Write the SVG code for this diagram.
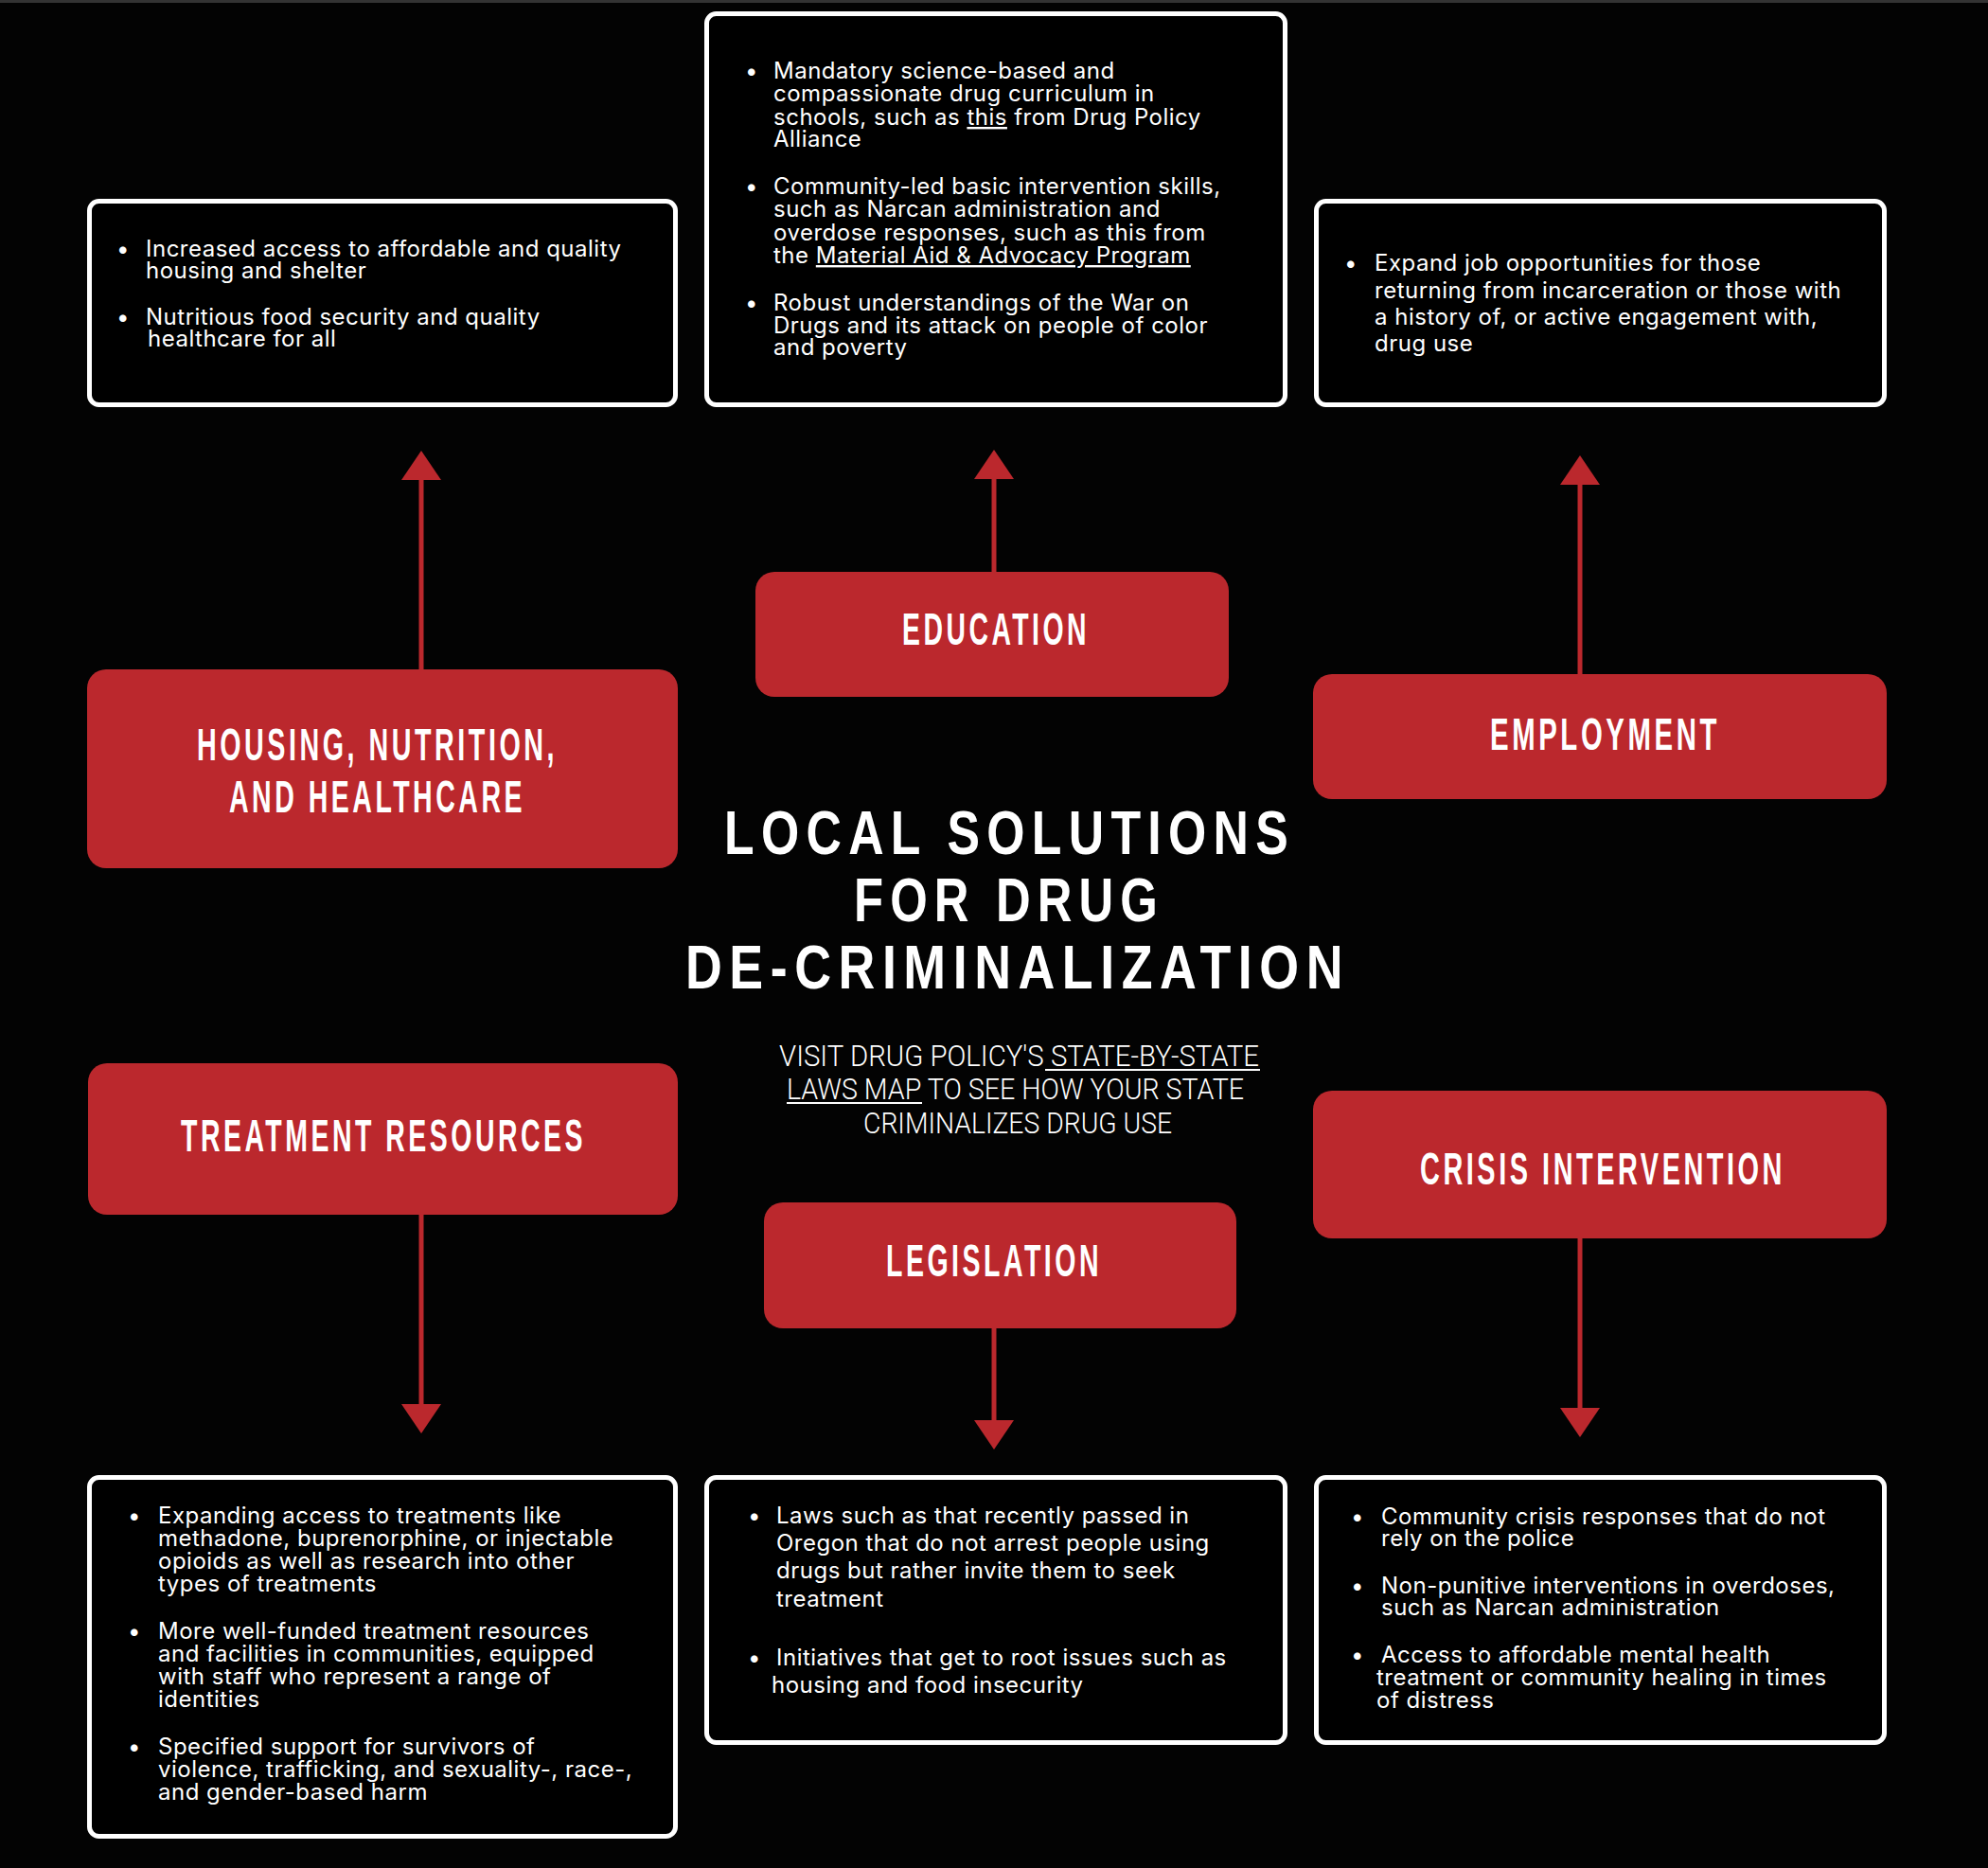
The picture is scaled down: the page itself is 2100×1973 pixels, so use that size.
<svg xmlns="http://www.w3.org/2000/svg" width="2100" height="1973" viewBox="0 0 2100 1973">
<defs>
<style>
.bg{fill:#030303}
.wbox{fill:#000;stroke:#fff;stroke-width:5}
.rbox{fill:#bb282d}
.lbl{font-family:"Liberation Sans",Arial,sans-serif;font-weight:700;font-size:49px;fill:#fff;letter-spacing:6px}
.ttl{font-family:"Liberation Sans",Arial,sans-serif;font-weight:700;font-size:64px;fill:#fff;letter-spacing:9px}
.sub{font-family:Roboto,"Liberation Sans",sans-serif;font-weight:300;font-size:32px;fill:#fff}
.body{font-family:Inter,"Liberation Sans",sans-serif;font-size:24px;fill:#fff;letter-spacing:0.5px}
.ul{text-decoration:underline}
.conn{stroke:#bb282d;stroke-width:5;fill:none}
.uline{stroke:#fff;stroke-width:2}
</style>
<marker id="head" markerUnits="userSpaceOnUse" viewBox="0 0 31 42" markerWidth="31" markerHeight="42" refX="0" refY="21" orient="auto">
<path d="M0,0 L31,21 L0,42 Z" fill="#bb282d"/>
</marker>
</defs>
<rect class="bg" x="0" y="0" width="2100" height="1973"/>
<rect x="0" y="0" width="2100" height="3" fill="#333"/>

<g id="connectors">
<line class="conn" x1="445" y1="708" x2="445" y2="507" marker-end="url(#head)"/>
<line class="conn" x1="1050" y1="605" x2="1050" y2="506" marker-end="url(#head)"/>
<line class="conn" x1="1669" y1="713" x2="1669" y2="512" marker-end="url(#head)"/>
<line class="conn" x1="445" y1="1282" x2="445" y2="1483" marker-end="url(#head)"/>
<line class="conn" x1="1050" y1="1402" x2="1050" y2="1500" marker-end="url(#head)"/>
<line class="conn" x1="1669" y1="1307" x2="1669" y2="1487" marker-end="url(#head)"/>
</g>

<g id="housing-details">
<rect class="wbox" x="94.5" y="212.5" width="619" height="215" rx="10"/>
<text class="body"><tspan x="123" y="271">•</tspan><tspan x="154" y="271">Increased access to affordable and quality</tspan><tspan x="154" y="294">housing and shelter</tspan><tspan x="123" y="343">•</tspan><tspan x="154" y="343">Nutritious food security and quality</tspan><tspan x="156" y="366">healthcare for all</tspan></text>
</g>

<g id="education-details">
<rect class="wbox" x="746.5" y="14.5" width="611" height="413" rx="10"/>
<text class="body"><tspan x="787" y="83">•</tspan><tspan x="817" y="83">Mandatory science-based and</tspan><tspan x="817" y="107">compassionate drug curriculum in</tspan><tspan x="817" y="132">schools, such as </tspan><tspan class="ul">this</tspan><tspan> from Drug Policy</tspan><tspan x="817" y="155">Alliance</tspan><tspan x="787" y="205">•</tspan><tspan x="817" y="205">Community-led basic intervention skills,</tspan><tspan x="817" y="229">such as Narcan administration and</tspan><tspan x="817" y="254">overdose responses, such as this from</tspan><tspan x="817" y="278">the </tspan><tspan class="ul">Material Aid &amp; Advocacy Program</tspan><tspan x="787" y="328">•</tspan><tspan x="817" y="328">Robust understandings of the War on</tspan><tspan x="817" y="352">Drugs and its attack on people of color</tspan><tspan x="817" y="375">and poverty</tspan></text>
</g>

<g id="employment-details">
<rect class="wbox" x="1390.5" y="212.5" width="600" height="215" rx="10"/>
<text class="body"><tspan x="1420" y="286">•</tspan><tspan x="1452" y="286">Expand job opportunities for those</tspan><tspan x="1452" y="315">returning from incarceration or those with</tspan><tspan x="1452" y="343">a history of, or active engagement with,</tspan><tspan x="1452" y="371">drug use</tspan></text>
</g>

<g id="housing">
<rect class="rbox" x="92" y="707" width="624" height="210" rx="20"/>
<text class="lbl" x="208" y="803" textLength="381" lengthAdjust="spacingAndGlyphs">HOUSING, NUTRITION,</text>
<text class="lbl" x="242" y="858" textLength="313" lengthAdjust="spacingAndGlyphs">AND HEALTHCARE</text>
</g>

<g id="education">
<rect class="rbox" x="798" y="604" width="500" height="132" rx="20"/>
<text class="lbl" x="953" y="681" font-size="46" textLength="198" lengthAdjust="spacingAndGlyphs">EDUCATION</text>
</g>

<g id="employment">
<rect class="rbox" x="1387" y="712" width="606" height="132" rx="20"/>
<text class="lbl" x="1574" y="792" font-size="51" textLength="243" lengthAdjust="spacingAndGlyphs">EMPLOYMENT</text>
</g>

<g id="title">
<text class="ttl" x="765" y="902" textLength="603" lengthAdjust="spacingAndGlyphs">LOCAL SOLUTIONS</text>
<text class="ttl" x="902" y="973" textLength="328" lengthAdjust="spacingAndGlyphs">FOR DRUG</text>
<text class="ttl" x="724" y="1044" textLength="702" lengthAdjust="spacingAndGlyphs">DE-CRIMINALIZATION</text>
<text class="sub" x="823" y="1126" textLength="507" lengthAdjust="spacingAndGlyphs">VISIT DRUG POLICY'S STATE-BY-STATE</text>
<line class="uline" x1="1104" y1="1130" x2="1331" y2="1130"/>
<text class="sub" x="831" y="1161" textLength="483" lengthAdjust="spacingAndGlyphs">LAWS MAP TO SEE HOW YOUR STATE</text>
<line class="uline" x1="831" y1="1165" x2="974" y2="1165"/>
<text class="sub" x="912" y="1197" textLength="326" lengthAdjust="spacingAndGlyphs">CRIMINALIZES DRUG USE</text>
</g>

<g id="treatment">
<rect class="rbox" x="93" y="1123" width="623" height="160" rx="20"/>
<text class="lbl" x="191" y="1216" textLength="428" lengthAdjust="spacingAndGlyphs">TREATMENT RESOURCES</text>
</g>

<g id="legislation">
<rect class="rbox" x="807" y="1270" width="499" height="133" rx="20"/>
<text class="lbl" x="936" y="1348" textLength="228" lengthAdjust="spacingAndGlyphs">LEGISLATION</text>
</g>

<g id="crisis">
<rect class="rbox" x="1387" y="1152" width="606" height="156" rx="20"/>
<text class="lbl" x="1500" y="1251" textLength="386" lengthAdjust="spacingAndGlyphs">CRISIS INTERVENTION</text>
</g>

<g id="treatment-details">
<rect class="wbox" x="94.5" y="1560.5" width="619" height="379" rx="10"/>
<text class="body"><tspan x="135" y="1609">•</tspan><tspan x="167" y="1609">Expanding access to treatments like</tspan><tspan x="167" y="1633">methadone, buprenorphine, or injectable</tspan><tspan x="167" y="1657">opioids as well as research into other</tspan><tspan x="167" y="1681">types of treatments</tspan><tspan x="135" y="1731">•</tspan><tspan x="167" y="1731">More well-funded treatment resources</tspan><tspan x="167" y="1755">and facilities in communities, equipped</tspan><tspan x="167" y="1779">with staff who represent a range of</tspan><tspan x="167" y="1803">identities</tspan><tspan x="135" y="1853">•</tspan><tspan x="167" y="1853">Specified support for survivors of</tspan><tspan x="167" y="1877">violence, trafficking, and sexuality-, race-,</tspan><tspan x="167" y="1901">and gender-based harm</tspan></text>
</g>

<g id="legislation-details">
<rect class="wbox" x="746.5" y="1560.5" width="611" height="280" rx="10"/>
<text class="body"><tspan x="790" y="1609">•</tspan><tspan x="820" y="1609">Laws such as that recently passed in</tspan><tspan x="820" y="1638">Oregon that do not arrest people using</tspan><tspan x="820" y="1667">drugs but rather invite them to seek</tspan><tspan x="820" y="1697">treatment</tspan><tspan x="790" y="1759">•</tspan><tspan x="820" y="1759">Initiatives that get to root issues such as</tspan><tspan x="815" y="1788">housing and food insecurity</tspan></text>
</g>

<g id="crisis-details">
<rect class="wbox" x="1390.5" y="1560.5" width="600" height="280" rx="10"/>
<text class="body"><tspan x="1427" y="1610">•</tspan><tspan x="1459" y="1610">Community crisis responses that do not</tspan><tspan x="1459" y="1633">rely on the police</tspan><tspan x="1427" y="1683">•</tspan><tspan x="1459" y="1683">Non-punitive interventions in overdoses,</tspan><tspan x="1459" y="1706">such as Narcan administration</tspan><tspan x="1427" y="1756">•</tspan><tspan x="1454" y="1780">treatment or community healing in times</tspan><tspan x="1459" y="1756">Access to affordable mental health</tspan><tspan x="1454" y="1804">of distress</tspan></text>
</g>
</svg>
